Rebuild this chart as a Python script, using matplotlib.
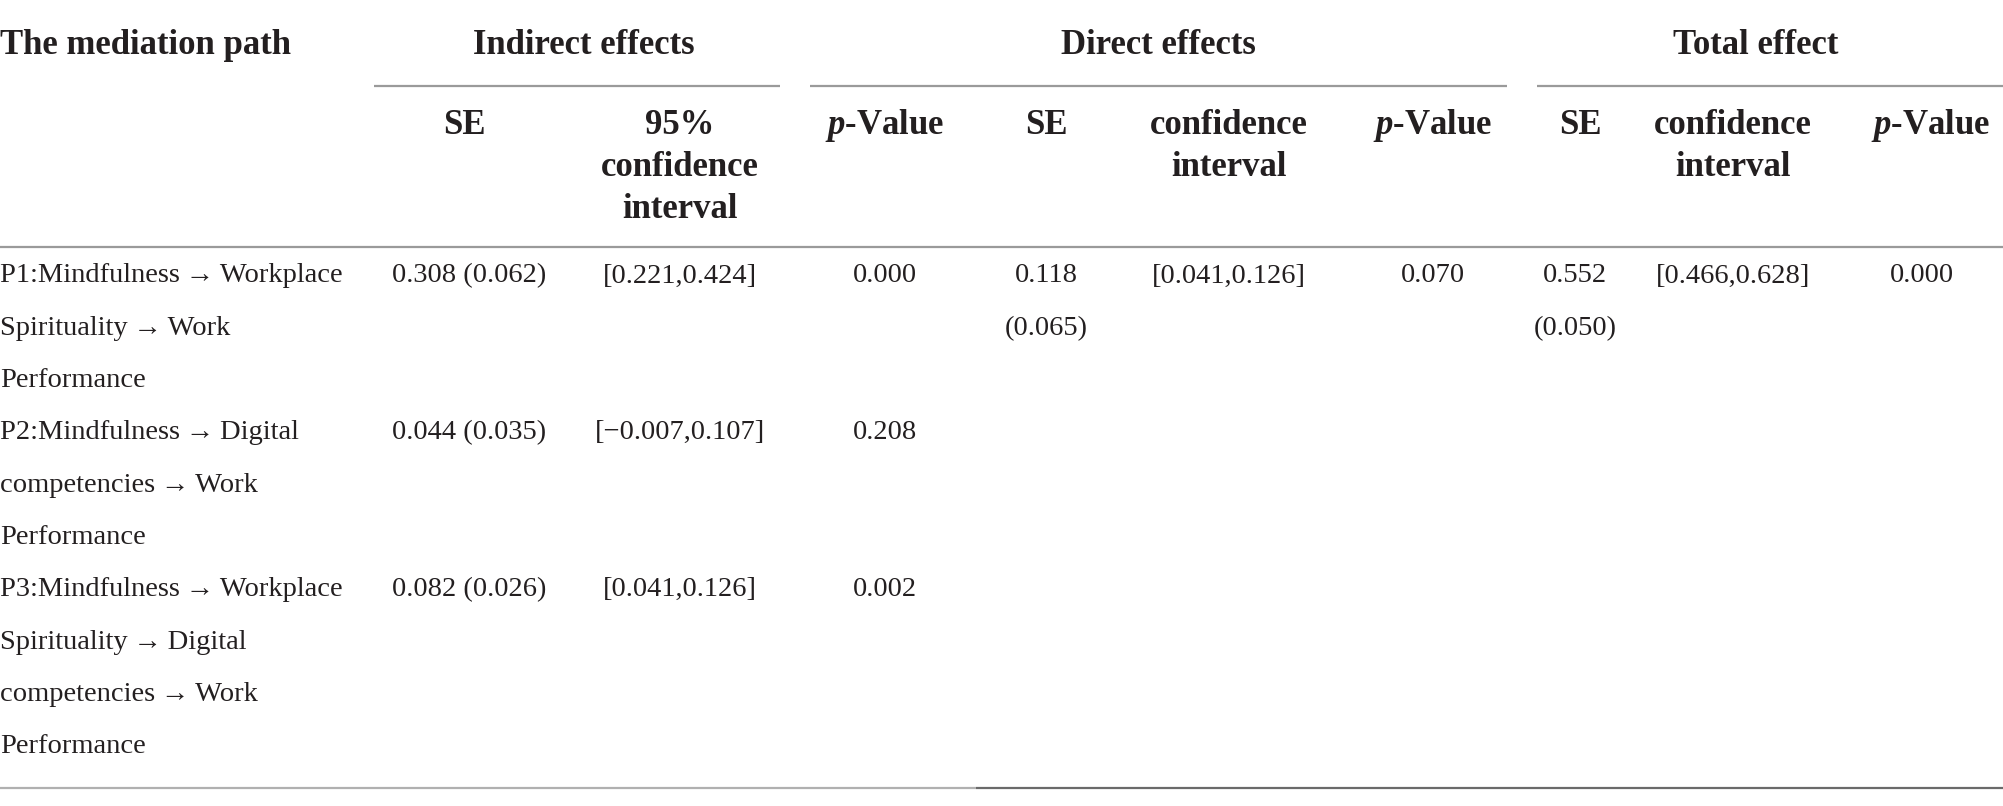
import matplotlib
matplotlib.use("Agg")
import matplotlib.pyplot as plt

plt.rcParams["font.family"] = ["Liberation Serif", "DejaVu Serif"]
plt.rcParams["mathtext.fontset"] = "custom"
plt.rcParams["mathtext.rm"] = "Liberation Serif"
plt.rcParams["mathtext.bf"] = "Liberation Serif:bold"
plt.rcParams["mathtext.bfit"] = "Liberation Serif:italic:bold"
plt.rcParams["mathtext.it"] = "Liberation Serif:italic"

# 表格内容
groups = ["Indirect effects", "Direct effects", "Total effect"]
sub_headers = [["SE"], ["95%", "confidence", "interval"], [r"$\mathbfit{p}$-Value"],
               ["SE"], ["confidence", "interval"], [r"$\mathbfit{p}$-Value"],
               ["SE"], ["confidence", "interval"], [r"$\mathbfit{p}$-Value"]]
paths = [
    ["P1:Mindfulness\u2009\u2192\u2009Workplace", "Spirituality\u2009\u2192\u2009Work", "Performance"],
    ["P2:Mindfulness\u2009\u2192\u2009Digital", "competencies\u2009\u2192\u2009Work", "Performance"],
    ["P3:Mindfulness\u2009\u2192\u2009Workplace", "Spirituality\u2009\u2192\u2009Digital",
     "competencies\u2009\u2192\u2009Work", "Performance"],
]
ind_se = ["0.308 (0.062)", "0.044 (0.035)", "0.082 (0.026)"]
ind_ci = ["[0.221,0.424]", "[\u22120.007,0.107]", "[0.041,0.126]"]
ind_p = ["0.000", "0.208", "0.002"]
dir_se = ["0.118", "(0.065)"]
dir_ci = "[0.041,0.126]"
dir_p = "0.070"
tot_se = ["0.552", "(0.050)"]
tot_ci = "[0.466,0.628]"
tot_p = "0.000"

W, H = 2003, 806
fig = plt.figure(figsize=(W / 100, H / 100), dpi=100)
ax = fig.add_axes([0, 0, 1, 1])
ax.set_xlim(0, W)
ax.set_ylim(H, 0)
ax.axis("off")

txt = "#231f20"
fs = 20.5
hfs = 25
step = 52.3

# 表头
ax.text(0, 46, "The mediation path", ha="left", va="center", fontsize=hfs,
        fontweight="bold", color=txt)
group_x = [584, 1158, 1756]
group_span = [(374, 780), (810, 1507), (1537, 2003)]
for g, gx, (x0, x1) in zip(groups, group_x, group_span):
    ax.text(gx, 46, g, ha="center", va="center", fontsize=hfs, fontweight="bold", color=txt)
    ax.plot([x0, x1], [86, 86], color="#9a9a9a", lw=1.6, solid_capstyle="butt")

col_x = [464, 680, 885, 1046, 1229, 1433, 1580, 1733, 1931]
hdr_y = [126, 168, 209]
for h, cx in zip(sub_headers, col_x):
    for k, ln in enumerate(h):
        ax.text(cx, hdr_y[k], ln, ha="center", va="center", fontsize=hfs,
                fontweight="bold", color=txt)

ax.plot([0, W], [247, 247], color="#9a9a9a", lw=1.6)

# 数据行
data_x = [469, 680, 885, 1046, 1229, 1433, 1575, 1733, 1922]
y0 = 276
row = 0
for i, lines in enumerate(paths):
    for j, ln in enumerate(lines):
        ax.text(0, y0 + (row + j) * step, ln, ha="left", va="center", fontsize=fs, color=txt)
    yy = y0 + row * step
    ax.text(data_x[0], yy, ind_se[i], ha="center", va="center", fontsize=fs, color=txt)
    ax.text(data_x[1], yy, ind_ci[i], ha="center", va="center", fontsize=fs, color=txt)
    ax.text(data_x[2], yy, ind_p[i], ha="center", va="center", fontsize=fs, color=txt)
    if i == 0:
        for k in range(2):
            ax.text(data_x[3], yy + k * step, dir_se[k], ha="center", va="center", fontsize=fs, color=txt)
            ax.text(data_x[6], yy + k * step, tot_se[k], ha="center", va="center", fontsize=fs, color=txt)
        ax.text(data_x[4], yy, dir_ci, ha="center", va="center", fontsize=fs, color=txt)
        ax.text(data_x[5], yy, dir_p, ha="center", va="center", fontsize=fs, color=txt)
        ax.text(data_x[7], yy, tot_ci, ha="center", va="center", fontsize=fs, color=txt)
        ax.text(data_x[8], yy, tot_p, ha="center", va="center", fontsize=fs, color=txt)
    row += len(lines)

# 底线
ax.plot([0, 976], [788, 788], color="#b0b0b0", lw=1.6, solid_capstyle="butt")
ax.plot([976, W], [788, 788], color="#6a6a6a", lw=1.6, solid_capstyle="butt")

fig.savefig("out.png", dpi=100, facecolor="white")
